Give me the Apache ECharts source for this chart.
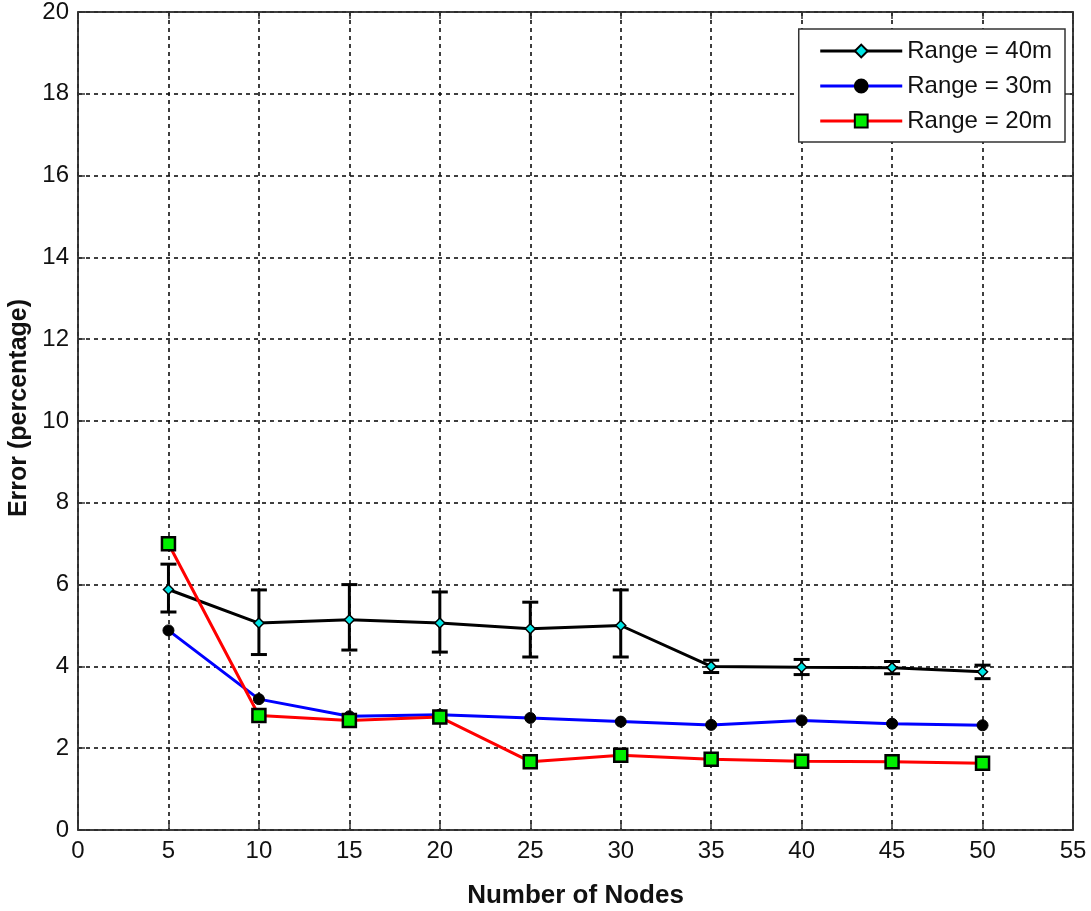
<!DOCTYPE html>
<html>
<head>
<meta charset="utf-8">
<script src="https://cdn.jsdelivr.net/npm/echarts@6/dist/echarts.min.js"></script>
<style>
  html, body { margin: 0; padding: 0; background: #fff; }
  #chart { width: 1091px; height: 911px; }
</style>
</head>
<body>
<div id="chart"></div>
<script>
// Number of nodes (x axis)
const nodes = [5, 10, 15, 20, 25, 30, 35, 40, 45, 50];

// Localization error (%) for each communication range
const range40 = [5.88, 5.06, 5.14, 5.06, 4.92, 5.00, 4.00, 3.98, 3.97, 3.87];
const range30 = [4.88, 3.20, 2.78, 2.82, 2.74, 2.65, 2.57, 2.68, 2.60, 2.56];
const range20 = [7.00, 2.80, 2.68, 2.76, 1.67, 1.83, 1.73, 1.68, 1.67, 1.63];

// Error-bar limits for the 40 m range
const range40Low  = [5.33, 4.29, 4.40, 4.35, 4.23, 4.23, 3.85, 3.80, 3.82, 3.70];
const range40High = [6.50, 5.87, 6.00, 5.82, 5.57, 5.87, 4.15, 4.17, 4.12, 4.03];

const xTicks = [0, 5, 10, 15, 20, 25, 30, 35, 40, 45, 50, 55];
const yTicks = [0, 2, 4, 6, 8, 10, 12, 14, 16, 18, 20];

const seriesNames = ['Range = 40m', 'Range = 30m', 'Range = 20m'];

const FONT = '"Liberation Sans", Arial, sans-serif';
const TEXT = '#111';
const FRAME = '#333';

const pairs = arr => nodes.map((n, i) => [n, arr[i]]);
const errData = nodes.map((n, i) => [n, range40Low[i], range40High[i]]);

const gridLine = { show: true, lineStyle: { color: '#111', width: 1.6, type: [4, 4] } };
const frameLine = { show: true, onZero: false, lineStyle: { color: FRAME, width: 1.5 } };
const frameTick = { show: true, inside: true, length: 7, lineStyle: { color: FRAME, width: 1.5 } };

const chart = echarts.init(document.getElementById('chart'), null, { renderer: 'canvas' });

chart.setOption({
  animation: false,
  backgroundColor: '#fff',
  grid: {
    left: 78, right: 18, top: 12, bottom: 81,
    outerBoundsMode: 'none',
    show: true, borderColor: FRAME, borderWidth: 1.5, backgroundColor: '#fff'
  },
  legend: {
    data: seriesNames,
    orient: 'vertical',
    right: 26, top: 29,
    padding: [10, 13, 9, 20],
    itemWidth: 82, itemHeight: 16, itemGap: 11,
    backgroundColor: '#fff',
    borderColor: FRAME, borderWidth: 1.5,
    lineStyle: { width: 3 },
    textStyle: { fontFamily: FONT, fontSize: 24, color: TEXT }
  },
  xAxis: [{
    type: 'value', min: 0, max: 55, interval: 5,
    name: 'Number of Nodes', nameLocation: 'middle', nameGap: 53,
    nameTextStyle: { fontFamily: FONT, fontSize: 26, fontWeight: 'bold', color: TEXT },
    axisLine: frameLine,
    axisTick: frameTick,
    axisLabel: { fontFamily: FONT, fontSize: 24, color: TEXT, margin: 9,
                 formatter: v => xTicks.includes(v) ? String(v) : '' },
    splitLine: gridLine
  }, {
    type: 'value', position: 'top', min: 0, max: 55, interval: 5,
    axisLine: frameLine, axisTick: frameTick,
    axisLabel: { show: false }, splitLine: { show: false }
  }],
  yAxis: [{
    type: 'value', min: 0, max: 20, interval: 2,
    name: 'Error (percentage)', nameLocation: 'middle', nameGap: 42,
    nameTextStyle: { fontFamily: FONT, fontSize: 25, fontWeight: 'bold', color: TEXT,
                     padding: [0, 0, 0, 26] },
    axisLine: frameLine,
    axisTick: frameTick,
    axisLabel: { fontFamily: FONT, fontSize: 24, color: TEXT, margin: 9,
                 formatter: v => yTicks.includes(v) ? String(v) : '' },
    splitLine: gridLine
  }, {
    type: 'value', position: 'right', min: 0, max: 20, interval: 2,
    axisLine: frameLine, axisTick: frameTick,
    axisLabel: { show: false }, splitLine: { show: false }
  }],
  series: [
    {
      name: 'err40',
      type: 'custom',
      z: 3,
      silent: true,
      data: errData,
      encode: { x: 0, y: [1, 2] },
      renderItem: function (params, api) {
        const x = api.value(0);
        const lo = api.coord([x, api.value(1)]);
        const hi = api.coord([x, api.value(2)]);
        const half = 8;
        const style = { stroke: '#000', lineWidth: 3, fill: null };
        return {
          type: 'group',
          children: [
            { type: 'line', shape: { x1: lo[0], y1: lo[1], x2: hi[0], y2: hi[1] }, style: style },
            { type: 'line', shape: { x1: lo[0] - half, y1: lo[1], x2: lo[0] + half, y2: lo[1] }, style: style },
            { type: 'line', shape: { x1: hi[0] - half, y1: hi[1], x2: hi[0] + half, y2: hi[1] }, style: style }
          ]
        };
      }
    },
    {
      name: seriesNames[0],
      type: 'line',
      z: 4,
      data: pairs(range40),
      lineStyle: { color: '#000', width: 3 },
      itemStyle: { color: '#00e5e5', borderColor: '#000', borderWidth: 1.5 },
      symbol: 'diamond', symbolSize: 10, showAllSymbol: true
    },
    {
      name: seriesNames[1],
      type: 'line',
      z: 4,
      data: pairs(range30),
      lineStyle: { color: '#0000ff', width: 3 },
      itemStyle: { color: '#000', borderColor: '#000', borderWidth: 1 },
      symbol: 'circle', symbolSize: 11, showAllSymbol: true
    },
    {
      name: seriesNames[2],
      type: 'line',
      z: 4,
      data: pairs(range20),
      lineStyle: { color: '#ff0000', width: 3 },
      itemStyle: { color: '#00ee00', borderColor: '#000', borderWidth: 2.5 },
      symbol: 'rect', symbolSize: 13, showAllSymbol: true
    }
  ]
});
</script>
</body>
</html>
